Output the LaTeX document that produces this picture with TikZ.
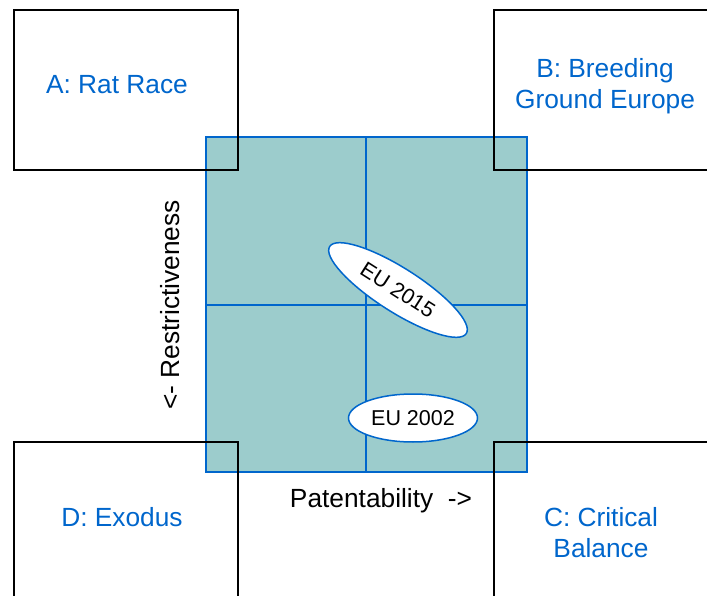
\documentclass[tikz,border=0pt]{standalone}
\usepackage{fontspec}
\setmainfont{Liberation Sans}
\usetikzlibrary{shapes.geometric}
\definecolor{qblue}{HTML}{0066CC}
\definecolor{qfill}{HTML}{9CCCCC}
\begin{document}
\begin{tikzpicture}[x=1pt,y=-1pt,
  scenario/.style={draw=black,line width=2pt,minimum width=224pt,minimum height=160pt,inner sep=0pt},
  label/.style={text=qblue,font=\fontsize{26.3}{31}\selectfont,align=center},
  axis/.style={text=black,font=\fontsize{26.3}{30}\selectfont},
  eu/.style={ellipse,draw=qblue,line width=1.5pt,fill=white,inner sep=0pt,font=\fontsize{21.5}{24}\selectfont}]
\useasboundingbox (0,0) rectangle (707,596);
% policy space
\filldraw[fill=qfill,draw=qblue,line width=2pt] (206,137) rectangle (527,472);
\draw[qblue,line width=1.5pt] (366,137) -- (366,472);
\draw[qblue,line width=1.5pt] (206,305) -- (527,305);
% scenario corners
\node[scenario] (A) at (126,90) {};
\node[scenario] (B) at (606,90) {};
\node[scenario] (D) at (126,522) {};
\node[scenario] (C) at (606,522) {};
\node[label] (la) at (117,85) {A: Rat Race};
\node[label] (lb) at (605,86) {B: Breeding\\Ground Europe};
\node[label] (ld) at (122,517) {D: Exodus};
\node[label] (lc) at (601,533) {C: Critical\\Balance};
% axes
\node[axis] (px) at (381,501) {Patentability\ \ ->};
\node[axis,rotate=90] (py) at (170,305) {<- Restrictiveness};
% positions
\node[eu,minimum width=162pt,minimum height=44pt,rotate=-32.5] (e15) at (398,290) {EU 2015};
\node[eu,minimum width=129pt,minimum height=48pt] (e02) at (413,418) {EU 2002};
\end{tikzpicture}
\end{document}
